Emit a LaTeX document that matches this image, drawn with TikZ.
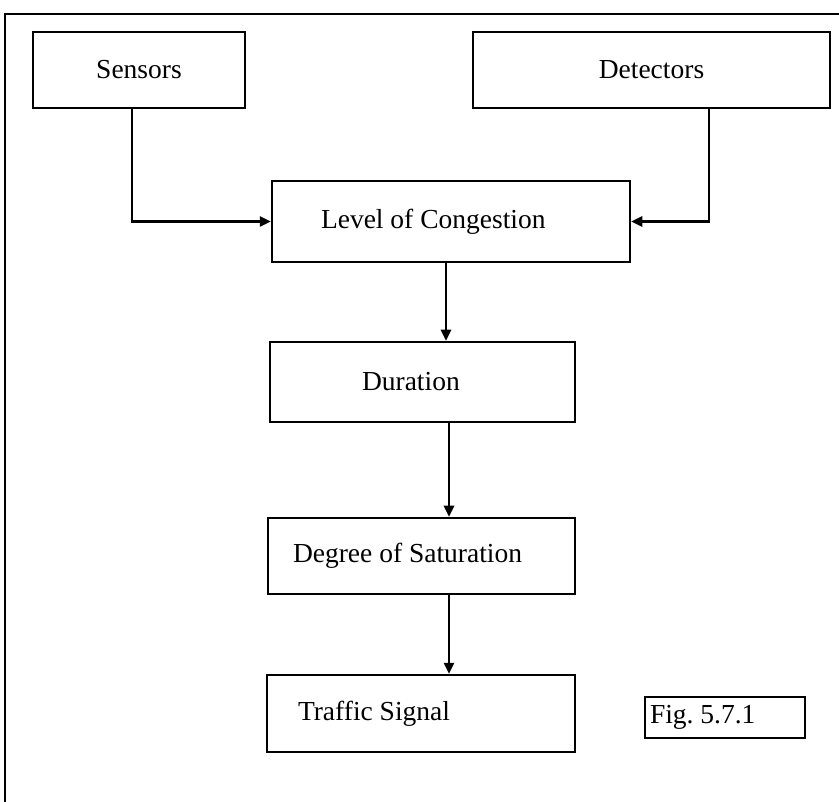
\documentclass[tikz,border=0pt]{standalone}
\usepackage{fontspec}
\setmainfont{Liberation Serif}
\usetikzlibrary{arrows.meta,positioning}
\tikzset{
	blk/.style={draw, rectangle, line width=2.5pt, inner sep=0pt,
		font=\fontsize{27.5}{33}\selectfont},
	lpad/.style 2 args={inner xsep=#1, text width=#2, align=flush left},
	arr/.style={line width=2.5pt, -{Triangle[length=11pt,width=10pt]}}
}
\begin{document}
\begin{tikzpicture}[x=1pt, y=-1pt]
	\useasboundingbox (0,0) rectangle (839,802);
	\draw[line width=2pt] (5,802) -- (5,14) -- (839,14);
	
	\node[blk, minimum width=212pt, minimum height=76pt] (sens) at (139,70) {Sensors};
	\node[blk, minimum width=357pt, minimum height=76pt] (det) at (651.5,70) {Detectors};
	\node[blk, minimum height=81pt, lpad={49pt}{260pt}] (cong) at (451,221.5) {Level of Congestion};
	\node[blk, minimum height=80pt, lpad={92pt}{121pt}] (dur) at (422.5,382) {Duration};
	\node[blk, minimum height=76pt, lpad={25pt}{257pt}] (sat) at (421.5,556) {Degree of Saturation};
	\node[blk, minimum height=77pt, lpad={31pt}{246pt}] (sig) at (421,713.5) {Traffic Signal};
	\node[blk, minimum height=41pt, lpad={5pt}{150pt}] (fig) at (725,717.5) {Fig.\ 5.7.1};
	
	\coordinate (c1) at (132,0);
	\coordinate (c2) at (709,0);
	\coordinate (c3) at (446,0);
	\coordinate (c4) at (449,0);
	
	\draw[arr] (sens.south -| c1) |- (cong.west);
	\draw[arr] (det.south -| c2) |- (cong.east);
	\draw[arr] (cong.south -| c3) -- (dur.north -| c3);
	\draw[arr] (dur.south -| c4) -- (sat.north -| c4);
	\draw[arr] (sat.south -| c4) -- (sig.north -| c4);
\end{tikzpicture}
\end{document}
